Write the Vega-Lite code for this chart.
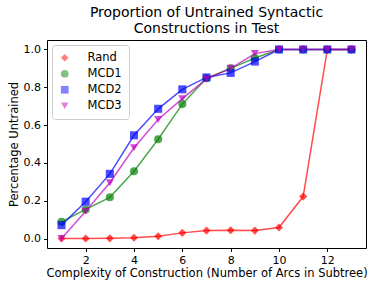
{
  "$schema": "https://vega.github.io/schema/vega-lite/v6.json",
  "width": 319,
  "height": 208,
  "autosize": "none",
  "padding": {"left": 47, "top": 40, "right": 8, "bottom": 39},
  "background": "white",
  "config": {
    "font": "DejaVu Sans",
    "view": {"stroke": "black", "strokeWidth": 1},
    "axis": {"domain": false, "grid": false, "tickColor": "black", "tickSize": 3.5, "labelColor": "black", "titleColor": "black", "labelFontSize": 11, "titleFontSize": 11.5, "titleFontWeight": "normal", "labelPadding": 3},
    "legend": {"labelFontSize": 11.5, "labelColor": "black"}
  },
  "title": {"text": ["Proportion of Untrained Syntactic", "Constructions in Test"], "fontSize": 14, "fontWeight": "normal", "color": "black", "anchor": "middle", "offset": 4, "lineHeight": 16},
  "data": {"values": [
    {"x": 1, "s": "Rand", "y": 0.0},
    {"x": 2, "s": "Rand", "y": 0.0},
    {"x": 3, "s": "Rand", "y": 0.001},
    {"x": 4, "s": "Rand", "y": 0.004},
    {"x": 5, "s": "Rand", "y": 0.012},
    {"x": 6, "s": "Rand", "y": 0.03},
    {"x": 7, "s": "Rand", "y": 0.042},
    {"x": 8, "s": "Rand", "y": 0.044},
    {"x": 9, "s": "Rand", "y": 0.042},
    {"x": 10, "s": "Rand", "y": 0.058},
    {"x": 11, "s": "Rand", "y": 0.222},
    {"x": 12, "s": "Rand", "y": 1.0},
    {"x": 13, "s": "Rand", "y": 1.0},
    {"x": 1, "s": "MCD1", "y": 0.088},
    {"x": 2, "s": "MCD1", "y": 0.154},
    {"x": 3, "s": "MCD1", "y": 0.218},
    {"x": 4, "s": "MCD1", "y": 0.356},
    {"x": 5, "s": "MCD1", "y": 0.525},
    {"x": 6, "s": "MCD1", "y": 0.711},
    {"x": 7, "s": "MCD1", "y": 0.848},
    {"x": 8, "s": "MCD1", "y": 0.9},
    {"x": 9, "s": "MCD1", "y": 0.955},
    {"x": 10, "s": "MCD1", "y": 1.0},
    {"x": 11, "s": "MCD1", "y": 1.0},
    {"x": 12, "s": "MCD1", "y": 1.0},
    {"x": 13, "s": "MCD1", "y": 1.0},
    {"x": 1, "s": "MCD2", "y": 0.071},
    {"x": 2, "s": "MCD2", "y": 0.195},
    {"x": 3, "s": "MCD2", "y": 0.342},
    {"x": 4, "s": "MCD2", "y": 0.546},
    {"x": 5, "s": "MCD2", "y": 0.686},
    {"x": 6, "s": "MCD2", "y": 0.789},
    {"x": 7, "s": "MCD2", "y": 0.852},
    {"x": 8, "s": "MCD2", "y": 0.876},
    {"x": 9, "s": "MCD2", "y": 0.936},
    {"x": 10, "s": "MCD2", "y": 1.0},
    {"x": 11, "s": "MCD2", "y": 1.0},
    {"x": 12, "s": "MCD2", "y": 1.0},
    {"x": 13, "s": "MCD2", "y": 1.0},
    {"x": 1, "s": "MCD3", "y": 0.0},
    {"x": 2, "s": "MCD3", "y": 0.144},
    {"x": 3, "s": "MCD3", "y": 0.295},
    {"x": 4, "s": "MCD3", "y": 0.48},
    {"x": 5, "s": "MCD3", "y": 0.63},
    {"x": 6, "s": "MCD3", "y": 0.74},
    {"x": 7, "s": "MCD3", "y": 0.844},
    {"x": 8, "s": "MCD3", "y": 0.9},
    {"x": 9, "s": "MCD3", "y": 0.978},
    {"x": 10, "s": "MCD3", "y": 1.0},
    {"x": 11, "s": "MCD3", "y": 1.0},
    {"x": 12, "s": "MCD3", "y": 1.0},
    {"x": 13, "s": "MCD3", "y": 1.0}
  ]},
  "encoding": {
    "x": {"field": "x", "type": "quantitative", "scale": {"domain": [0.4, 13.6], "nice": false, "zero": false},
      "axis": {"values": [2, 4, 6, 8, 10, 12], "title": "Complexity of Construction (Number of Arcs in Subtree)", "titlePadding": 2}},
    "y": {"field": "y", "type": "quantitative", "scale": {"domain": [-0.05, 1.05], "nice": false, "zero": false},
      "axis": {"values": [0, 0.2, 0.4, 0.6, 0.8, 1.0], "format": ".1f", "title": "Percentage Untrained", "titlePadding": 4}},
    "color": {"field": "s", "type": "nominal", "scale": {"domain": ["Rand", "MCD1", "MCD2", "MCD3"], "range": ["#ff0000", "#008000", "#0000ff", "#bf00bf"]}, "title": null,
      "legend": {"orient": "none", "legendX": 5, "legendY": 5, "fillColor": "rgba(255,255,255,0.8)", "strokeColor": "#cccccc", "cornerRadius": 3, "padding": 7, "labelOffset": 17, "rowPadding": 3, "symbolSize": 60, "symbolOpacity": 0.7, "symbolStrokeWidth": 0}}
  },
  "layer": [
    {"mark": {"type": "line", "strokeWidth": 1.5, "opacity": 0.7}, "encoding": {"detail": {"field": "s"}}},
    {"mark": {"type": "point", "filled": true, "opacity": 0.7, "size": 65, "strokeWidth": 0},
      "encoding": {
        "shape": {"field": "s", "type": "nominal", "scale": {"domain": ["Rand", "MCD1", "MCD2", "MCD3"], "range": ["diamond", "circle", "square", "triangle-down"]}, "title": null}
      }}
  ]
}
